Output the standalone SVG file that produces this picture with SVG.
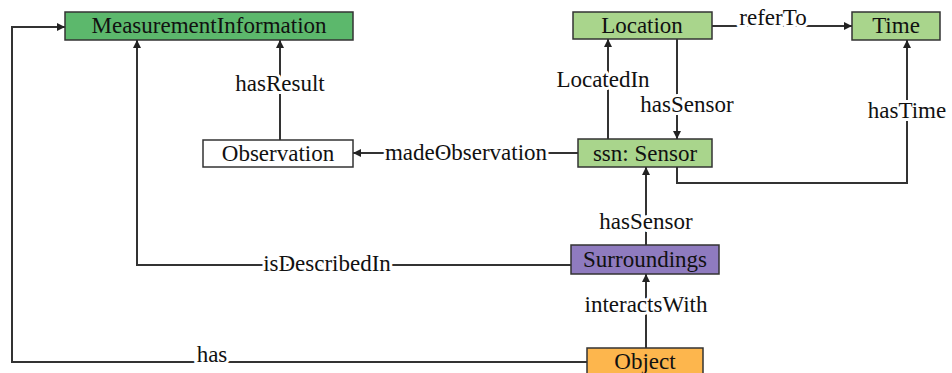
<svg xmlns="http://www.w3.org/2000/svg" width="952" height="373" viewBox="0 0 952 373">
  <defs>
    <marker id="arrow" viewBox="0 0 8 8" refX="8" refY="4" markerWidth="8" markerHeight="8" markerUnits="userSpaceOnUse" orient="auto">
      <path d="M0,0 L8,4 L0,8 z" fill="#222"/>
    </marker>
    <style>
      .box { stroke: #333; stroke-width: 1.5; }
      .name { font-size: 23px; fill: #111; text-anchor: middle; }
      .edge { fill: none; stroke: #333; stroke-width: 2; }
      .lbl { font-size: 23px; fill: #111; text-anchor: middle; stroke: #fff; stroke-width: 6; paint-order: stroke; stroke-linejoin: round; }
    </style>
  </defs>
  <rect width="952" height="373" fill="#fff"/>

  <!-- connectors -->
  <g id="connectors" font-family="Liberation Serif, DejaVu Serif, serif">
    <path class="edge" d="M587,362 H12 V27 H65" marker-end="url(#arrow)"/>
    <path class="edge" d="M571,265 H137 V40" marker-end="url(#arrow)"/>
    <path class="edge" d="M280,140 V40" marker-end="url(#arrow)"/>
    <path class="edge" d="M578,153 H353" marker-end="url(#arrow)"/>
    <path class="edge" d="M608,139 V39" marker-end="url(#arrow)"/>
    <path class="edge" d="M677,39 V139" marker-end="url(#arrow)"/>
    <path class="edge" d="M712,26 H852" marker-end="url(#arrow)"/>
    <path class="edge" d="M677,167 V183 H907 V40" marker-end="url(#arrow)"/>
    <path class="edge" d="M646,245 V167" marker-end="url(#arrow)"/>
    <path class="edge" d="M646,348 V274" marker-end="url(#arrow)"/>

    <text class="lbl" x="212" y="362">has</text>
    <text class="lbl" x="327" y="271">isDescribedIn</text>
    <text class="lbl" x="280" y="91">hasResult</text>
    <text class="lbl" x="466" y="160">madeObservation</text>
    <text class="lbl" x="603" y="87">LocatedIn</text>
    <text class="lbl" x="687" y="112">hasSensor</text>
    <text class="lbl" x="773" y="25">referTo</text>
    <text class="lbl" x="907" y="118">hasTime</text>
    <text class="lbl" x="646" y="229">hasSensor</text>
    <text class="lbl" x="646" y="312">interactsWith</text>
  </g>

  <!-- nodes -->
  <g id="nodes" font-family="Liberation Serif, DejaVu Serif, serif">
    <g id="measurement-information">
      <rect class="box" x="65" y="12" width="288" height="28" fill="#5cb86c"/>
      <text class="name" x="209" y="33">MeasurementInformation</text>
    </g>
    <g id="observation">
      <rect class="box" x="203" y="140" width="150" height="27" fill="#fff"/>
      <text class="name" x="278" y="161">Observation</text>
    </g>
    <g id="location">
      <rect class="box" x="573" y="12" width="139" height="27" fill="#a9d58c"/>
      <text class="name" x="642" y="33">Location</text>
    </g>
    <g id="time">
      <rect class="box" x="852" y="12" width="88" height="28" fill="#a9d58c"/>
      <text class="name" x="896" y="33">Time</text>
    </g>
    <g id="sensor">
      <rect class="box" x="578" y="139" width="134" height="28" fill="#a9d58c"/>
      <text class="name" x="645" y="161">ssn: Sensor</text>
    </g>
    <g id="surroundings">
      <rect class="box" x="571" y="245" width="148" height="29" fill="#8f7bbf"/>
      <text class="name" x="645" y="267">Surroundings</text>
    </g>
    <g id="object">
      <rect class="box" x="587" y="348" width="116" height="30" fill="#fdb64d"/>
      <text class="name" x="645" y="369">Object</text>
    </g>
  </g>
</svg>
